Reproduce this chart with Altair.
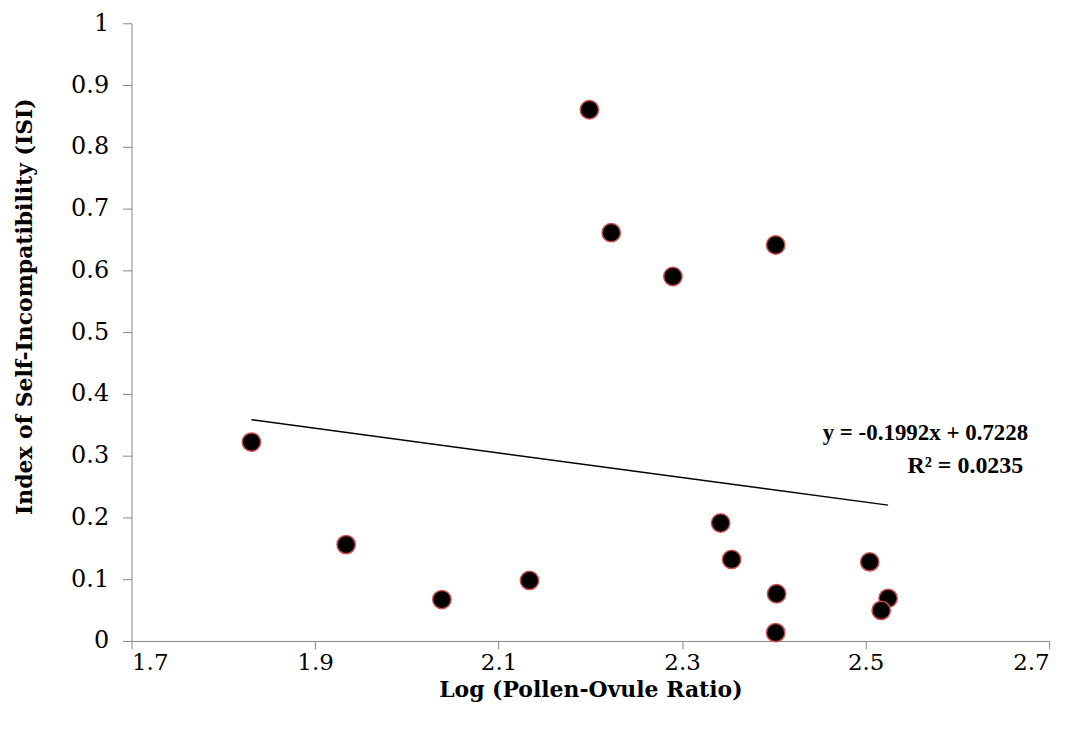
import altair as alt
import pandas as pd

log_po = [1.8307, 1.9339, 2.0382, 2.1337, 2.199, 2.2228, 2.290, 2.402, 2.342,
          2.354, 2.403, 2.402, 2.5045, 2.5245, 2.517]
isi = [0.322, 0.156, 0.067, 0.098, 0.860, 0.661, 0.590, 0.641, 0.191,
       0.132, 0.0765, 0.0135, 0.128, 0.069, 0.0495]

slope = -0.1992
intercept = 0.7228
trend_x = [min(log_po), max(log_po)]
trend_y = [slope * v + intercept for v in trend_x]

x_ticks = [1.7, 1.9, 2.1, 2.3, 2.5, 2.7]
y_ticks = [0, 0.1, 0.2, 0.3, 0.4, 0.5, 0.6, 0.7, 0.8, 0.9, 1.0]

eq_lines = ["y = -0.1992x + 0.7228", "R² = 0.0235"]

df = pd.DataFrame({"x": log_po, "y": isi})
tdf = pd.DataFrame({"x": trend_x, "y": trend_y})

FONT = "DejaVu Serif"
EQ_FONT = "Liberation Serif"

xs = alt.Scale(domain=[1.7, 2.7], nice=False, zero=False)
ys = alt.Scale(domain=[0, 1], nice=False)

x_axis = alt.Axis(values=x_ticks, format=".1f", grid=False, domainColor="#868686",
                  tickColor="#868686", tickSize=8, labelFont=FONT, labelFontSize=23,
                  labelColor="black", labelPadding=3, title="Log (Pollen-Ovule Ratio)",
                  titleFont=FONT, titleFontSize=22, titleFontWeight="bold",
                  titleColor="black", titlePadding=5)
y_axis = alt.Axis(values=y_ticks, format=".1~f", grid=False, domainColor="#868686",
                  tickColor="#868686", tickSize=9, labelFont=FONT, labelFontSize=24,
                  labelColor="black", labelPadding=14, title="Index of Self-Incompatibility (ISI)",
                  titleFont=FONT, titleFontSize=22, titleFontWeight="bold",
                  titleColor="black", titleX=-107, titleY=284, titleAngle=270,
                  titleAlign="center", titleBaseline="middle")

points = alt.Chart(df).mark_point(filled=True, shape="circle", size=340, fill="black",
                                  stroke="#c9514f", strokeWidth=1.5, opacity=1).encode(
    x=alt.X("x:Q", scale=xs, axis=x_axis),
    y=alt.Y("y:Q", scale=ys, axis=y_axis),
)

trend = alt.Chart(tdf).mark_line(color="black", strokeWidth=1.5).encode(
    x=alt.X("x:Q", scale=xs),
    y=alt.Y("y:Q", scale=ys),
)

eq1 = alt.Chart(pd.DataFrame({"t": [eq_lines[0]]})).mark_text(
    font=EQ_FONT, fontSize=23, fontWeight="bold", align="right", baseline="middle",
    color="black"
).encode(x=alt.value(900), y=alt.value(411), text="t:N")

eq2 = alt.Chart(pd.DataFrame({"t": [eq_lines[1]]})).mark_text(
    font=EQ_FONT, fontSize=24, fontWeight="bold", align="right", baseline="middle",
    color="black"
).encode(x=alt.value(895), y=alt.value(444), text="t:N")

chart = alt.layer(trend, points, eq1, eq2).properties(
    width=921, height=620,
    background="white",
    autosize=alt.AutoSizeParams(type="none"),
    padding={"left": 124, "top": 14, "right": 30, "bottom": 80},
).configure_view(stroke=None)

chart.save("out.html", embed_options={"renderer": "svg", "actions": False})
